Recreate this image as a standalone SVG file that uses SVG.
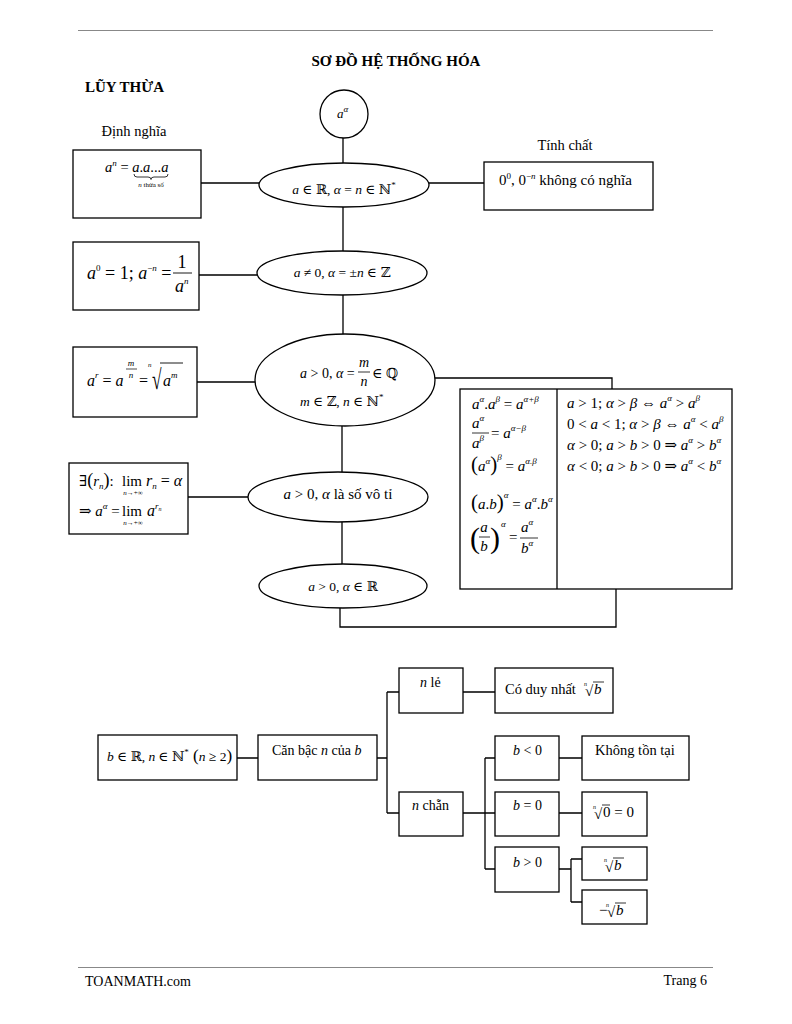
<svg xmlns="http://www.w3.org/2000/svg" width="792" height="1024" viewBox="0 0 792 1024">
<style>
.ln{stroke:#000;stroke-width:1.3;fill:none}
.bx{fill:#fff;stroke:#000;stroke-width:1.3}
.t{font-family:"Liberation Serif","DejaVu Serif",serif;font-size:13px;fill:#000}
.i{font-style:italic}
.s{font-size:9px}
.b{font-weight:bold}
.m{text-anchor:middle}
.sm{font-size:7px}
.f15{font-size:15px}
</style>
<rect width="792" height="1024" fill="#fff"/>
<line x1="78" y1="30.5" x2="713" y2="30.5" stroke="#888" stroke-width="1"/>
<line x1="78" y1="967.5" x2="713" y2="967.5" stroke="#888" stroke-width="1"/>
<text class="t b m" x="396" y="66" style="font-size:15px">SƠ ĐỒ HỆ THỐNG HÓA</text>
<text class="t b" x="85" y="92" style="font-size:15px">LŨY THỪA</text>
<text class="t m" x="134" y="136" style="font-size:14.5px">Định nghĩa</text>
<text class="t m" x="565" y="150" style="font-size:14.5px">Tính chất</text>
<text class="t" x="85" y="986" style="font-size:14px">TOANMATH.com</text>
<text class="t" x="707" y="985" text-anchor="end" style="font-size:14px">Trang 6</text>

<g id="connectors">
<path class="ln" d="M343,138V163M201,183H259M428,183H484M343,207V251M199,275H257M343,295V334M197,382H255M435,378H612V389M342,426V472M188,497H248M342,522V564M340,608V627H616V589"/>
<path class="ln" d="M237,758H258M377,758H387M387,692V813M387,692H399M387,813H399M463,692H495M463,813H495M485,758V869M485,758H495M485,869H495M559,758H582M559,813H582M559,869H571M571,859V902M571,859H582M571,902H582"/>
</g>

<g id="n-root">
<ellipse class="bx" cx="344" cy="114" rx="24" ry="24"/>
<text class="t i" x="337" y="118">a<tspan class="s" dy="-6">α</tspan></text>
</g>

<g id="n-e1">
<ellipse class="bx" cx="344" cy="185" rx="85" ry="22"/>
<text class="t m" x="344" y="194" style="font-size:13.5px"><tspan class="i">a</tspan> ∈ ℝ, <tspan class="i">α</tspan> = <tspan class="i">n</tspan> ∈ ℕ<tspan class="s" dy="-6">*</tspan></text>
</g>

<g id="n-def1">
<rect class="bx" x="73" y="150" width="128" height="68"/>
<text class="t" x="105" y="172" style="font-size:14.5px"><tspan class="i">a</tspan><tspan class="s i" dy="-6">n</tspan><tspan dy="6"> = </tspan><tspan class="i">a</tspan>.<tspan class="i">a</tspan>...<tspan class="i">a</tspan></text>
<path d="M134,174q0,3 3,3h11q3,0 3,2.5q0,-2.5 3,-2.5h11q3,0 3,-3" fill="none" stroke="#000" stroke-width="0.8"/>
<text class="t sm m" x="151" y="187"><tspan class="i">n</tspan> thừa số</text>
</g>

<g id="n-prop1">
<rect class="bx" x="484" y="162" width="169" height="48"/>
<text class="t" x="499" y="185" style="font-size:15px">0<tspan class="s" dy="-6">0</tspan><tspan dy="6">, 0</tspan><tspan class="s" dy="-6">−<tspan class="i">n</tspan></tspan><tspan dy="6"> không có nghĩa</tspan></text>
</g>

<g id="n-e2">
<ellipse class="bx" cx="342" cy="273" rx="85" ry="22"/>
<text class="t m" x="342" y="277" style="font-size:13.5px"><tspan class="i">a</tspan> ≠ 0, <tspan class="i">α</tspan> = ±<tspan class="i">n</tspan> ∈ ℤ</text>
</g>

<g id="n-def2">
<rect class="bx" x="73" y="242" width="126" height="68"/>
<text class="t" x="87" y="279" style="font-size:18px"><tspan class="i">a</tspan><tspan class="s" dy="-8">0</tspan><tspan dy="8"> = 1; </tspan><tspan class="i">a</tspan><tspan class="s" dy="-8">−<tspan class="i">n</tspan></tspan><tspan dy="8"> =</tspan></text>
<text class="t m" x="182" y="268" style="font-size:18px">1</text>
<line x1="173" y1="273" x2="192" y2="273" stroke="#000" stroke-width="0.9"/>
<text class="t" x="175" y="292" style="font-size:18px"><tspan class="i">a</tspan><tspan class="s i" dy="-8">n</tspan></text>
</g>

<g id="n-e3">
<ellipse class="bx" cx="345" cy="380" rx="90" ry="46"/>
<text class="t" x="300" y="378" style="font-size:14px"><tspan class="i">a</tspan> &gt; 0, <tspan class="i">α</tspan> =</text>
<text class="t i m" x="364" y="367" style="font-size:14px">m</text>
<line x1="358" y1="372" x2="370" y2="372" stroke="#000" stroke-width="0.8"/>
<text class="t i m" x="364" y="386" style="font-size:14px">n</text>
<text class="t" x="372" y="378" style="font-size:14px">∈ ℚ</text>
<text class="t" x="300" y="406" style="font-size:13.5px"><tspan class="i">m</tspan> ∈ ℤ, <tspan class="i">n</tspan> ∈ ℕ<tspan class="s" dy="-6">*</tspan></text>
</g>

<g id="n-def3">
<rect class="bx" x="73" y="347" width="124" height="70"/>
<text class="t" x="87" y="386" style="font-size:16px"><tspan class="i">a</tspan><tspan class="s i" dy="-8">r</tspan><tspan dy="8"> = </tspan><tspan class="i">a</tspan></text>
<text class="t i m" x="131" y="366" style="font-size:9px">m</text>
<line x1="126" y1="369" x2="137" y2="369" stroke="#000" stroke-width="0.7"/>
<text class="t i m" x="131" y="378" style="font-size:9px">n</text>
<text class="t" x="139" y="386" style="font-size:16px">=</text>
<text class="t i" x="148" y="367" style="font-size:7px">n</text>
<text class="t" transform="translate(152,389) scale(0.62,1)" style="font-size:28px">√</text>
<line x1="160" y1="363" x2="183" y2="363" stroke="#000" stroke-width="0.9"/>
<text class="t" x="163" y="386" style="font-size:16px"><tspan class="i">a</tspan><tspan class="s i" dy="-8">m</tspan></text>
</g>

<g id="n-props">
<rect class="bx" x="460" y="389" width="272" height="200"/>
<line class="ln" x1="557" y1="389" x2="557" y2="589"/>
<text class="t f15" x="472" y="409"><tspan class="i">a</tspan><tspan class="s i" dy="-7">α</tspan><tspan dy="7">.</tspan><tspan class="i">a</tspan><tspan class="s i" dy="-7">β</tspan><tspan dy="7"> = </tspan><tspan class="i">a</tspan><tspan class="s i" dy="-7">α+β</tspan></text>
<text class="t f15" x="472" y="428"><tspan class="i">a</tspan><tspan class="s i" dy="-7">α</tspan></text>
<line x1="472" y1="433" x2="489" y2="433" stroke="#000" stroke-width="0.8"/>
<text class="t f15" x="472" y="448"><tspan class="i">a</tspan><tspan class="s i" dy="-7">β</tspan></text>
<text class="t f15" x="491" y="438">= <tspan class="i">a</tspan><tspan class="s i" dy="-7">α−β</tspan></text>
<text class="t f15" x="471" y="471"><tspan style="font-size:21px">(</tspan><tspan class="i">a</tspan><tspan class="s i" dy="-7">α</tspan><tspan dy="7" style="font-size:21px">)</tspan><tspan class="s i" dy="-11">β</tspan><tspan dy="11"> = </tspan><tspan class="i">a</tspan><tspan class="s i" dy="-7">α.β</tspan></text>
<text class="t f15" x="471" y="509"><tspan style="font-size:21px">(</tspan><tspan class="i">a</tspan>.<tspan class="i">b</tspan><tspan style="font-size:21px">)</tspan><tspan class="s i" dy="-11">α</tspan><tspan dy="11"> = </tspan><tspan class="i">a</tspan><tspan class="s i" dy="-7">α</tspan><tspan dy="7">.</tspan><tspan class="i">b</tspan><tspan class="s i" dy="-7">α</tspan></text>
<text class="t" x="470" y="548" style="font-size:30px">(</text>
<text class="t i m f15" x="484" y="532">a</text>
<line x1="479" y1="537" x2="490" y2="537" stroke="#000" stroke-width="0.8"/>
<text class="t i m f15" x="484" y="551">b</text>
<text class="t" x="490" y="548" style="font-size:30px">)</text>
<text class="t i s" x="501" y="527">α</text>
<text class="t f15" x="509" y="542">=</text>
<text class="t f15" x="521" y="532"><tspan class="i">a</tspan><tspan class="s i" dy="-7">α</tspan></text>
<line x1="520" y1="538" x2="538" y2="538" stroke="#000" stroke-width="0.8"/>
<text class="t f15" x="521" y="553"><tspan class="i">b</tspan><tspan class="s i" dy="-7">α</tspan></text>
<text class="t f15" x="567" y="408"><tspan class="i">a</tspan> &gt; 1;  <tspan class="i">α</tspan> &gt; <tspan class="i">β</tspan> ⇔ <tspan class="i">a</tspan><tspan class="s i" dy="-7">α</tspan><tspan dy="7"> &gt; </tspan><tspan class="i">a</tspan><tspan class="s i" dy="-7">β</tspan></text>
<text class="t f15" x="567" y="429">0 &lt; <tspan class="i">a</tspan> &lt; 1;  <tspan class="i">α</tspan> &gt; <tspan class="i">β</tspan> ⇔ <tspan class="i">a</tspan><tspan class="s i" dy="-7">α</tspan><tspan dy="7"> &lt; </tspan><tspan class="i">a</tspan><tspan class="s i" dy="-7">β</tspan></text>
<text class="t f15" x="567" y="450"><tspan class="i">α</tspan> &gt; 0;  <tspan class="i">a</tspan> &gt; <tspan class="i">b</tspan> &gt; 0 ⇒ <tspan class="i">a</tspan><tspan class="s i" dy="-7">α</tspan><tspan dy="7"> &gt; </tspan><tspan class="i">b</tspan><tspan class="s i" dy="-7">α</tspan></text>
<text class="t f15" x="567" y="471"><tspan class="i">α</tspan> &lt; 0;  <tspan class="i">a</tspan> &gt; <tspan class="i">b</tspan> &gt; 0 ⇒ <tspan class="i">a</tspan><tspan class="s i" dy="-7">α</tspan><tspan dy="7"> &lt; </tspan><tspan class="i">b</tspan><tspan class="s i" dy="-7">α</tspan></text>
</g>

<g id="n-e4">
<ellipse class="bx" cx="338" cy="497" rx="90" ry="25"/>
<text class="t m" x="338" y="499" style="font-size:15px"><tspan class="i">a</tspan> &gt; 0, <tspan class="i">α</tspan> là số vô tỉ</text>
</g>

<g id="n-def4">
<rect class="bx" x="69" y="463" width="119" height="71"/>
<text class="t" x="79" y="486" style="font-size:15px">∃<tspan style="font-size:18px">(</tspan><tspan class="i">r</tspan><tspan class="s i" dy="3">n</tspan><tspan dy="-3" style="font-size:18px">)</tspan>:</text>
<text class="t" x="122" y="486" style="font-size:15px">lim</text>
<text class="t" x="146" y="486" style="font-size:16px"><tspan class="i">r</tspan><tspan class="s i" dy="3">n</tspan><tspan dy="-3"> = </tspan><tspan class="i">α</tspan></text>
<text class="t sm m" x="133" y="495"><tspan class="i">n</tspan>→+∞</text>
<text class="t" x="79" y="516" style="font-size:15px">⇒ <tspan class="i">a</tspan><tspan class="s i" dy="-7">α</tspan><tspan dy="7"> =</tspan></text>
<text class="t" x="122" y="516" style="font-size:15px">lim</text>
<text class="t" x="147" y="516" style="font-size:16px"><tspan class="i">a</tspan><tspan class="s i" dy="-7">r</tspan><tspan class="i" style="font-size:6px" dy="2">n</tspan></text>
<text class="t sm m" x="133" y="525"><tspan class="i">n</tspan>→+∞</text>
</g>

<g id="n-e5">
<ellipse class="bx" cx="343" cy="586" rx="84" ry="22"/>
<text class="t m" x="343" y="591" style="font-size:13.5px"><tspan class="i">a</tspan> &gt; 0, <tspan class="i">α</tspan> ∈ ℝ</text>
</g>

<g id="n-cond">
<rect class="bx" x="98" y="735" width="139" height="45"/>
<text class="t" x="107" y="761" style="font-size:13.5px"><tspan class="i">b</tspan> ∈ ℝ, <tspan class="i">n</tspan> ∈ ℕ<tspan class="s" dy="-6">*</tspan><tspan dy="6" style="font-size:17px"> (</tspan><tspan class="i">n</tspan> ≥ 2<tspan style="font-size:17px">)</tspan></text>
</g>
<g id="n-root-b">
<rect class="bx" x="258" y="735" width="119" height="45"/>
<text class="t" x="272" y="755" style="font-size:14px">Căn bậc <tspan class="i">n</tspan> của <tspan class="i">b</tspan></text>
</g>
<g id="n-odd">
<rect class="bx" x="399" y="668" width="64" height="45"/>
<text class="t" x="420" y="687" style="font-size:14px"><tspan class="i">n</tspan> lẻ</text>
</g>
<g id="n-odd-r">
<rect class="bx" x="495" y="668" width="118" height="45"/>
<text class="t" x="505" y="694" style="font-size:14.5px">Có duy nhất </text>
<text class="t i" x="584" y="686" style="font-size:6px">n</text>
<text class="t" x="585" y="696" style="font-size:15px">√</text>
<line x1="593" y1="682" x2="604" y2="682" stroke="#000" stroke-width="0.8"/>
<text class="t i" x="594" y="694" style="font-size:15px">b</text>
</g>
<g id="n-even">
<rect class="bx" x="399" y="792" width="64" height="44"/>
<text class="t" x="412" y="810" style="font-size:14px"><tspan class="i">n</tspan> chẵn</text>
</g>
<g id="n-bneg">
<rect class="bx" x="495" y="736" width="64" height="44"/>
<text class="t" x="513" y="755" style="font-size:14px"><tspan class="i">b</tspan> &lt; 0</text>
</g>
<g id="n-bneg-r">
<rect class="bx" x="582" y="736" width="107" height="44"/>
<text class="t" x="595" y="755" style="font-size:14.5px">Không tồn tại</text>
</g>
<g id="n-bzero">
<rect class="bx" x="495" y="792" width="64" height="44"/>
<text class="t" x="513" y="810" style="font-size:14px"><tspan class="i">b</tspan> = 0</text>
</g>
<g id="n-bzero-r">
<rect class="bx" x="582" y="792" width="65" height="44"/>
<text class="t i" x="593" y="809" style="font-size:6px">n</text>
<text class="t" x="594" y="819" style="font-size:15px">√</text>
<line x1="602" y1="805" x2="610" y2="805" stroke="#000" stroke-width="0.8"/>
<text class="t" x="603" y="817" style="font-size:15px">0 = 0</text>
</g>
<g id="n-bpos">
<rect class="bx" x="495" y="847" width="64" height="45"/>
<text class="t" x="513" y="867" style="font-size:14px"><tspan class="i">b</tspan> &gt; 0</text>
</g>
<g id="n-rt-pos">
<rect class="bx" x="582" y="847" width="65" height="33"/>
<text class="t i" x="604" y="862" style="font-size:6px">n</text>
<text class="t" x="605" y="872" style="font-size:15px">√</text>
<line x1="613" y1="858" x2="624" y2="858" stroke="#000" stroke-width="0.8"/>
<text class="t i" x="614" y="870" style="font-size:15px">b</text>
</g>
<g id="n-rt-neg">
<rect class="bx" x="582" y="890" width="65" height="34"/>
<text class="t" x="599" y="915" style="font-size:15px">−</text>
<text class="t i" x="606" y="907" style="font-size:6px">n</text>
<text class="t" x="607" y="917" style="font-size:15px">√</text>
<line x1="615" y1="903" x2="626" y2="903" stroke="#000" stroke-width="0.8"/>
<text class="t i" x="616" y="915" style="font-size:15px">b</text>
</g>
</svg>
